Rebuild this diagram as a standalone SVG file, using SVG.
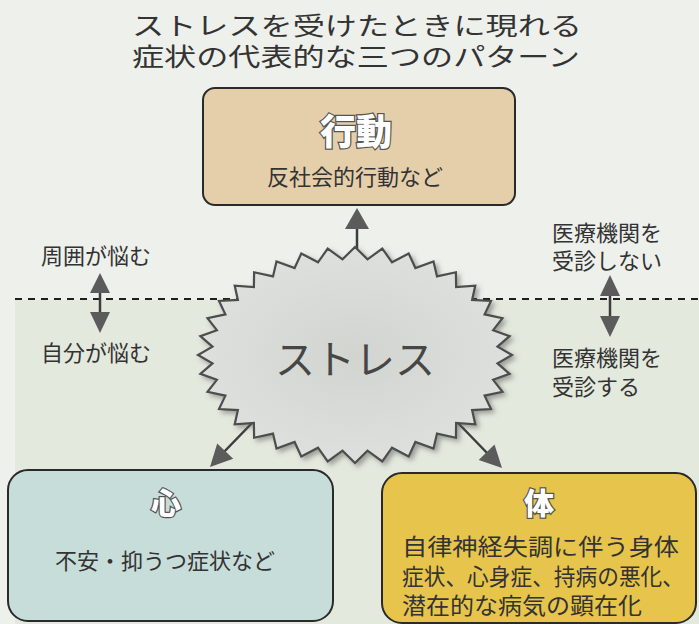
<svg xmlns="http://www.w3.org/2000/svg" width="699" height="624" viewBox="0 0 699 624">
<defs>
<style>
.t{font-family:"Noto Sans CJK JP","Noto Sans CJK SC",sans-serif;fill:#333}
.lbl{font-size:22px}
.box{stroke:#2a2a2a;stroke-width:2}
.head{font-family:"Noto Sans CJK JP","Noto Sans CJK SC",sans-serif;font-weight:900;fill:#fff;stroke:#555;stroke-width:2.5;paint-order:stroke;text-anchor:middle}
.arr{fill:#5b5b5b}
.shaft{stroke:#3d3d3d;stroke-width:2.5;fill:none}
</style>
<filter id="sh" x="-10%" y="-10%" width="130%" height="130%">
<feDropShadow dx="3" dy="3" stdDeviation="2.5" flood-color="#555" flood-opacity="0.5"/>
</filter>
<radialGradient id="sg" cx="50%" cy="50%" r="55%">
<stop offset="0" stop-color="#d2d4d0"/>
<stop offset="1" stop-color="#dfe1de"/>
</radialGradient>
</defs>
<rect width="699" height="624" fill="#eef0eb"/>
<rect x="15" y="300" width="684" height="324" fill="#e4e9de"/>

<g id="title">
<text class="t" x="132" y="35" font-size="25" font-weight="400" textLength="450" lengthAdjust="spacingAndGlyphs">ストレスを受けたときに現れる</text>
<text class="t" x="132" y="66" font-size="25" font-weight="400" textLength="448" lengthAdjust="spacingAndGlyphs">症状の代表的な三つのパターン</text>
</g>

<g id="dividers">
<line x1="15" y1="299" x2="699" y2="299" stroke="#1e1e1e" stroke-width="2" stroke-dasharray="7 6"/>
</g>

<g id="connectors">
<line class="shaft" x1="357" y1="226" x2="357" y2="249"/>
<polygon class="arr" points="357,208 345,229 369,229"/>
<line class="shaft" x1="252" y1="423" x2="222" y2="454"/>
<polygon class="arr" points="210,467 217.2,443.5 233.2,458.7"/>
<line class="shaft" x1="458" y1="423" x2="490" y2="456"/>
<polygon class="arr" points="502,468 494.5,444.6 478.7,460"/>
<line class="shaft" x1="100" y1="290" x2="100" y2="315"/>
<polygon class="arr" points="100,273 90,293 110,293"/>
<polygon class="arr" points="100,333 90,312 110,312"/>
<line class="shaft" x1="610" y1="292" x2="610" y2="319"/>
<polygon class="arr" points="610,275 600,296 620,296"/>
<polygon class="arr" points="610,337 600,316 620,316"/>
</g>

<g id="stress">
<polygon filter="url(#sh)" fill="url(#sg)" stroke="#4d4d4d" stroke-width="2.2" stroke-linejoin="miter" points="355,247 367.5,259.4 382.3,248.6 392,262.3 408.7,253.5 415.4,268 433.5,261.5 437,276.4 455.9,272.3 456.1,287.1 475.3,285.6 472.1,299.9 491,301 484.6,314.4 502.5,318.1 493.1,330.2 509.6,336.2 497.5,346.6 512,355 497.5,363.4 509.6,373.8 493.1,379.8 502.5,391.9 484.6,395.6 491,409 472.1,410.1 475.3,424.4 456.1,422.9 455.9,437.7 437,433.6 433.5,448.5 415.4,442 408.7,456.5 392,447.7 382.3,461.4 367.5,450.6 355,463 342.5,450.6 327.7,461.4 318,447.7 301.3,456.5 294.6,442 276.5,448.5 273,433.6 254.1,437.7 253.9,422.9 234.7,424.4 237.9,410.1 219,409 225.4,395.6 207.5,391.9 216.9,379.8 200.4,373.8 212.5,363.4 198,355 212.5,346.6 200.4,336.2 216.9,330.2 207.5,318.1 225.4,314.4 219,301 237.9,299.9 234.7,285.6 253.9,287.1 254.1,272.3 273,276.4 276.5,261.5 294.6,268 301.3,253.5 318,262.3 327.7,248.6 342.5,259.4"/>
<text class="t" x="355" y="374" font-size="40" font-weight="400" text-anchor="middle" style="fill:#464646">ストレス</text>
</g>

<g id="behavior">
<rect class="box" x="203" y="88" width="312" height="117" rx="12" fill="#e5cfaa"/>
<text class="head" x="356" y="145" font-size="36">行動</text>
<text class="t lbl" x="355" y="185" text-anchor="middle">反社会的行動など</text>
</g>

<g id="mind">
<rect class="box" x="8" y="470" width="325" height="151" rx="20" fill="#c7ddd9"/>
<text class="head" x="166" y="514" font-size="30">心</text>
<text class="t lbl" x="165" y="569" text-anchor="middle">不安・抑うつ症状など</text>
</g>

<g id="body">
<rect class="box" x="382" y="473" width="314" height="150" rx="20" fill="#e7c54c"/>
<text class="head" x="539" y="514" font-size="30">体</text>
<text class="t" x="402" y="555" font-size="23" textLength="277" lengthAdjust="spacingAndGlyphs">自律神経失調に伴う身体</text>
<text class="t" x="402" y="585" font-size="23" textLength="282" lengthAdjust="spacingAndGlyphs">症状、心身症、持病の悪化、</text>
<text class="t" x="402" y="614" font-size="23" textLength="240" lengthAdjust="spacingAndGlyphs">潜在的な病気の顕在化</text>
</g>

<g id="labels">
<text class="t lbl" x="41" y="264" font-size="23">周囲が悩む</text>
<text class="t lbl" x="41" y="361" font-size="23">自分が悩む</text>
<text class="t lbl" x="552" y="241" font-size="23">医療機関を</text>
<text class="t lbl" x="552" y="269" font-size="23">受診しない</text>
<text class="t lbl" x="552" y="366" font-size="23">医療機関を</text>
<text class="t lbl" x="552" y="395" font-size="23">受診する</text>
</g>
</svg>
